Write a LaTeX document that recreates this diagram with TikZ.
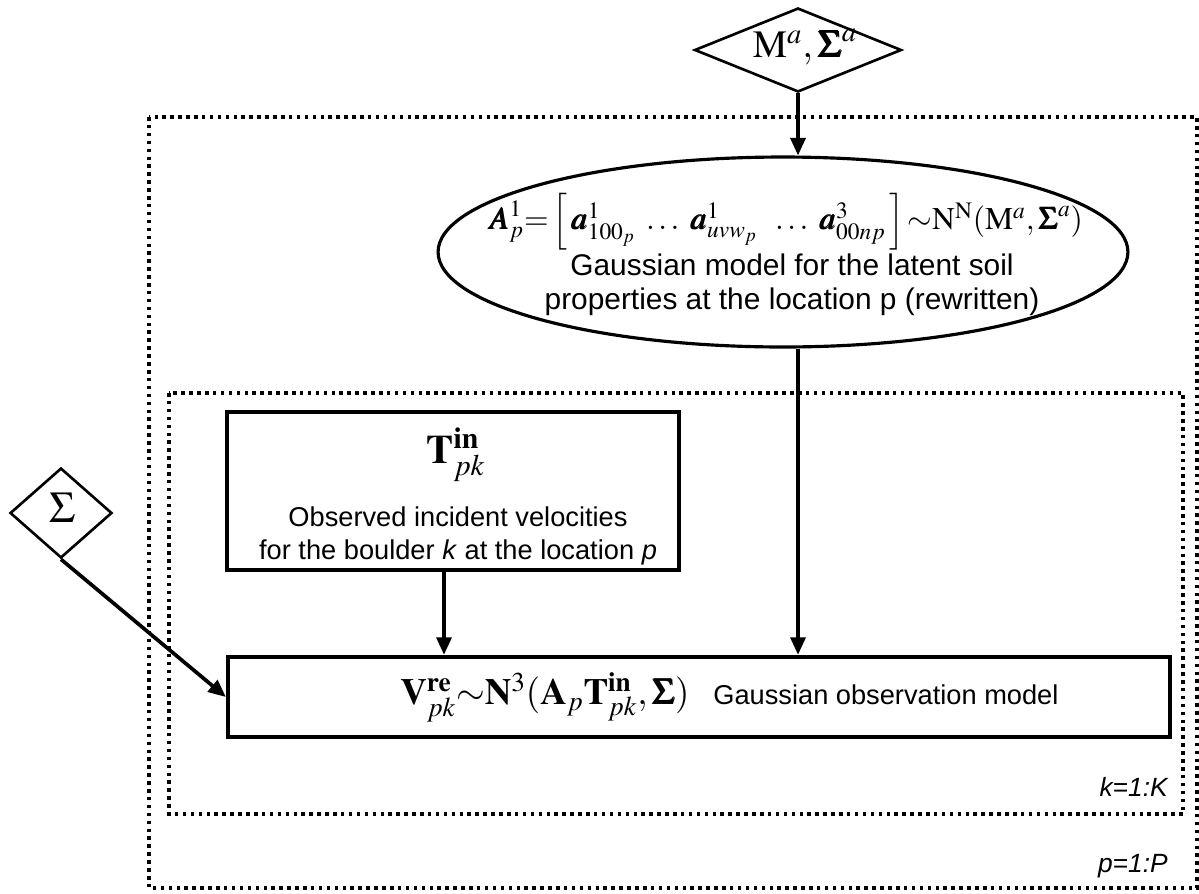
\documentclass[tikz,border=0pt]{standalone}
\usepackage{amsmath}
\usepackage{mathptmx}
\usepackage{bm}
\usepackage[no-math]{fontspec}
\setmainfont{Liberation Serif}
\setsansfont{Liberation Sans}
\usetikzlibrary{shapes.geometric,arrows.meta}
\begin{document}
\begin{tikzpicture}[x=0.02cm,y=-0.02cm,
  plate/.style={draw, line width=2pt, dash pattern=on 2pt off 2.5pt},
  dia/.style={draw, diamond, line width=1.5pt, inner sep=0pt, aspect=1},
  box/.style={draw, rectangle, line width=2.5pt, inner sep=0pt},
  conn/.style={line width=2.1pt, -{Triangle[length=10pt,width=8.5pt]}},
  txt/.style={font=\sffamily, align=center, inner sep=0pt},
  mth/.style={inner sep=0pt},
]
\useasboundingbox (0,0) rectangle (1199,893);
% plates
\draw[plate] (149,117) rectangle (1197,888);
\draw[plate] (169,393) rectangle (1183,814);
\node[txt, anchor=base east, font=\sffamily\itshape\fontsize{15}{18}\selectfont] (lk) at (1168,796) {k=1:K};
\node[txt, anchor=base east, font=\sffamily\itshape\fontsize{15}{18}\selectfont] (lp) at (1168,872) {p=1:P};
% nodes
\node[dia, minimum width=4.14cm, minimum height=1.68cm] (dM) at (798,50) {};
\node[mth, font=\fontsize{22}{26}\selectfont] (tM) at (805,47) {$\mathrm{M}^{a},\bm{\Sigma}^{a}$};
\node[dia, minimum width=2.04cm, minimum height=1.8cm] (dS) at (61,513) {};
\node[mth, font=\fontsize{25}{30}\selectfont] (tS) at (62,508) {$\Sigma$};
\node[draw, ellipse, line width=1.8pt, inner sep=0pt, minimum width=13.8cm, minimum height=3.8cm] (ell) at (783,252) {};
\node[mth, font=\fontsize{18}{22}\selectfont] (fA) at (786,222) {$\bm{A}_{p}^{1}{=}\left[\,\bm{a}^{1}_{100_{p}}\;\ldots\;\bm{a}^{1}_{uvw_{p}}\;\;\ldots\;\bm{a}^{3}_{00np}\,\right]{\sim}\mathrm{N}^{\mathrm{N}}(\mathrm{M}^{a},\bm{\Sigma}^{a})$};
\node[txt, font=\sffamily\fontsize{17}{19.5}\selectfont] (tA) at (792,285) {Gaussian model for the latent soil\\properties at the location p (rewritten)};
\node[box, minimum width=9.04cm, minimum height=3.16cm] (T) at (453,491) {};
\node[mth, font=\fontsize{23}{27}\selectfont] (fT) at (456,455) {$\mathbf{T}^{\mathbf{in}}_{pk}$};
\node[txt, font=\sffamily\fontsize{15.5}{18.5}\selectfont] (tT) at (458,536) {Observed incident velocities\\for the boulder \textit{k} at the location \textit{p}};
\node[box, minimum width=18.84cm, minimum height=1.6cm] (V) at (699,697) {};
\node[mth, font=\fontsize{21}{25}\selectfont, anchor=west] (fV) at (400,697) {$\mathbf{V}^{\mathbf{re}}_{pk}{\sim}\mathbf{N}^{3}(\mathbf{A}_{p}\mathbf{T}^{\mathbf{in}}_{pk},\bm{\Sigma})$};
\node[txt, font=\sffamily\fontsize{15.5}{18.5}\selectfont, anchor=west] (tV) at (713,695) {Gaussian observation model};
% connectors
\draw[conn] (dM.south) -- (dM.south |- ell.north);
\draw[conn] (dM.south |- ell.south) -- (dM.south |- V.north);
\draw[conn] ([xshift=-0.18cm]T.south) -- ([xshift=-0.18cm]T.south |- V.north);
\draw[conn] (dS.south) -- (V.west);
\end{tikzpicture}
\end{document}
